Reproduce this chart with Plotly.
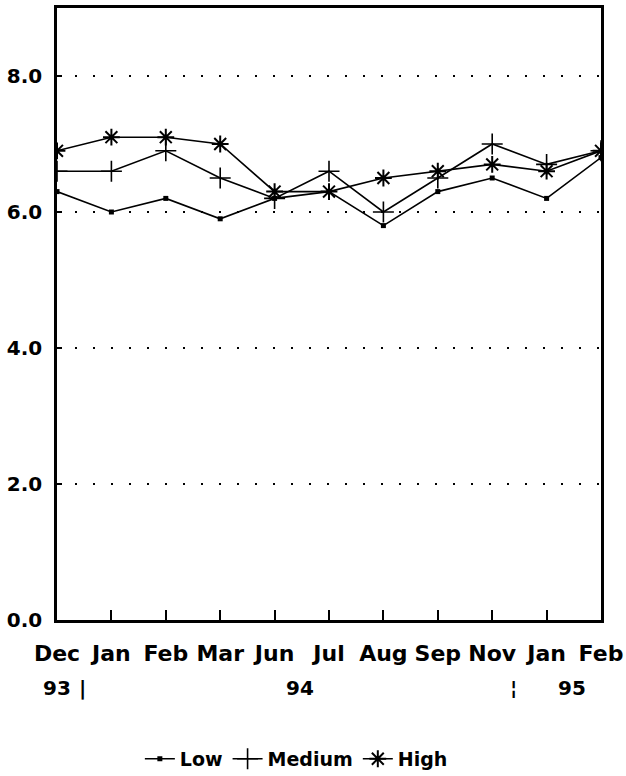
import plotly.graph_objects as go

# Survey months (Dec 1993 through Feb 1995)
months = ["Dec", "Jan", "Feb", "Mar", "Jun", "Jul", "Aug", "Sep", "Nov", "Jan", "Feb"]
positions = list(range(len(months)))

low = [6.3, 6.0, 6.2, 5.9, 6.2, 6.3, 5.8, 6.3, 6.5, 6.2, 6.8]
medium = [6.6, 6.6, 6.9, 6.5, 6.2, 6.6, 6.0, 6.5, 7.0, 6.7, 6.9]
high = [6.9, 7.1, 7.1, 7.0, 6.3, 6.3, 6.5, 6.6, 6.7, 6.6, 6.9]

y_ticks = [0, 2, 4, 6, 8]
y_tick_text = ["0.0", "2.0", "4.0", "6.0", "8.0"]

# Year markers under the month labels: (position, text)
year_labels = [(0.0, "93"), (0.46, "|"), (4.47, "94"), (8.4, "¦"), (9.47, "95")]

FONT = "DejaVu Sans"
BLACK = "#000000"

fig = go.Figure()

fig.add_trace(go.Scatter(
    x=positions, y=low, name="Low", mode="lines+markers",
    line=dict(color=BLACK, width=1.6),
    marker=dict(symbol="square", size=5, color=BLACK),
))
fig.add_trace(go.Scatter(
    x=positions, y=medium, name="Medium", mode="lines+markers",
    line=dict(color=BLACK, width=1.6),
    marker=dict(symbol="cross-thin-open", size=15, color=BLACK,
                line=dict(color=BLACK, width=1.6)),
))
fig.add_trace(go.Scatter(
    x=positions, y=high, name="High", mode="lines+markers",
    line=dict(color=BLACK, width=1.6),
    marker=dict(symbol="asterisk-open", size=14, color=BLACK,
                line=dict(color=BLACK, width=2)),
))

for xpos, txt in year_labels:
    fig.add_annotation(
        x=xpos, y=-0.111, xref="x", yref="paper", text=txt, showarrow=False,
        xanchor="center", yanchor="middle",
        font=dict(family=FONT, size=20, color=BLACK, weight="bold"),
    )

fig.update_layout(
    width=626, height=776,
    margin=dict(l=57, r=25, t=8, b=156, autoexpand=False),
    paper_bgcolor="white", plot_bgcolor="white",
    font=dict(family=FONT, color=BLACK),
    showlegend=True,
    legend=dict(
        orientation="h", x=0.44, xanchor="center", y=-0.227, yanchor="middle",
        font=dict(family=FONT, size=19, color=BLACK, weight="bold"),
        itemwidth=30, tracegroupgap=0, bgcolor="rgba(0,0,0,0)",
    ),
    xaxis=dict(
        range=[0, 10], tickmode="array", tickvals=positions, ticktext=months,
        ticks="inside", ticklen=10, tickwidth=2, tickcolor=BLACK,
        showline=True, linecolor=BLACK, linewidth=2.5, mirror=True,
        showgrid=False, zeroline=False, ticklabelstandoff=12,
        tickfont=dict(family=FONT, size=22, color=BLACK, weight="bold"),
    ),
    yaxis=dict(
        range=[0, 9], tickmode="array", tickvals=y_ticks, ticktext=y_tick_text,
        ticks="inside", ticklen=5, tickwidth=2, tickcolor=BLACK,
        showline=True, linecolor=BLACK, linewidth=2.5, mirror=True,
        showgrid=True, gridcolor=BLACK, gridwidth=2, griddash="2px,16px",
        zeroline=False, ticklabelstandoff=8,
        tickfont=dict(family=FONT, size=20, color=BLACK, weight="bold"),
    ),
)

fig.write_html("out.html")
